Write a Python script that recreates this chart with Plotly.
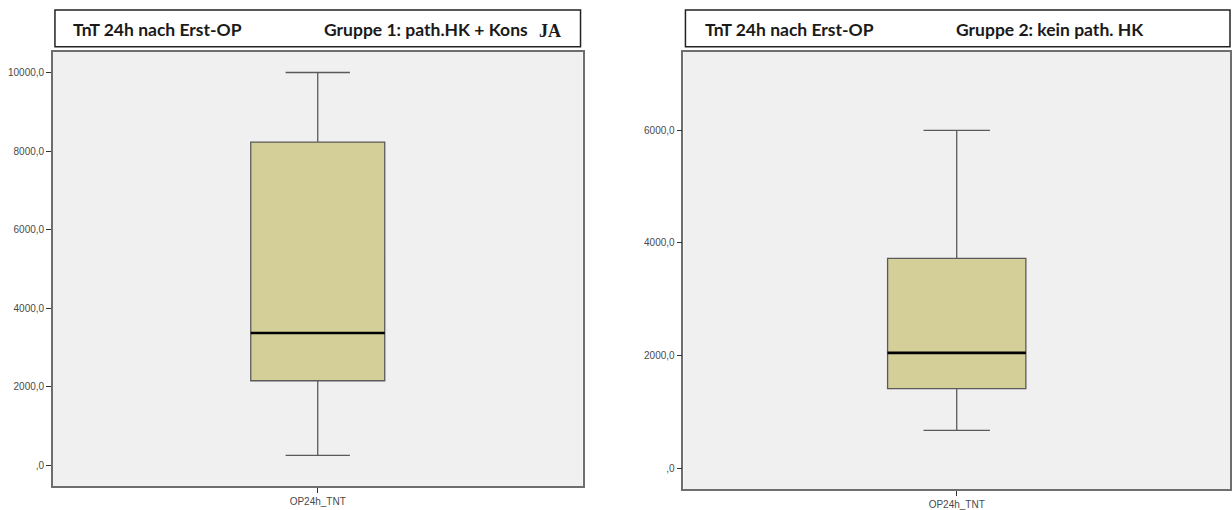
import plotly.graph_objects as go

categories = ["OP24h_TNT"]

# Group 1: path.HK + Kons JA
g1_low = [253]
g1_q1 = [2152]
g1_med = [3367]
g1_q3 = [8228]
g1_high = [10000]
g1_ticks = [0, 2000, 4000, 6000, 8000, 10000]
g1_ticktext = [",0", "2000,0", "4000,0", "6000,0", "8000,0", "10000,0"]

# Group 2: kein path. HK
g2_low = [671]
g2_q1 = [1412]
g2_med = [2048]
g2_q3 = [3725]
g2_high = [6000]
g2_ticks = [0, 2000, 4000, 6000]
g2_ticktext = [",0", "2000,0", "4000,0", "6000,0"]

titles_left = ["TnT 24h nach Erst-OP", "TnT 24h nach Erst-OP"]
titles_right = ["Gruppe 1: path.HK + Kons", "Gruppe 2: kein path. HK"]
title_suffix = ["JA", ""]

W, H = 1232, 510
BOXW = 0.253
FILL = "#d4cf98"
LINE = "#5a5a5a"

fig = go.Figure()

def add_box(xa, ya, low, q1, med, q3, high):
    fig.add_trace(go.Box(
        x=categories, lowerfence=low, q1=q1, median=med, q3=q3, upperfence=high,
        xaxis=xa, yaxis=ya, fillcolor=FILL, line=dict(color=LINE, width=1.3),
        width=BOXW, whiskerwidth=0.48, boxpoints=False, showlegend=False,
        hoverinfo="skip",
    ))
    fig.add_shape(type="line", xref=xa, yref=ya, x0=-BOXW / 2, x1=BOXW / 2,
                  y0=med[0], y1=med[0], line=dict(color="#000000", width=2.6))

add_box("x", "y", g1_low, g1_q1, g1_med, g1_q3, g1_high)
add_box("x2", "y2", g2_low, g2_q1, g2_med, g2_q3, g2_high)

def px(x):
    return x / W

def py(y):
    return 1 - y / H

tickfont = dict(family="Liberation Sans Narrow, Arial Narrow, sans-serif", size=10, color="#4a4a4a")
axis_common = dict(showline=True, mirror=True, linecolor="#6e6e6e", linewidth=1.6,
                   ticks="outside", ticklen=5, tickcolor="#333333", tickwidth=1,
                   showgrid=False, zeroline=False, tickfont=tickfont, fixedrange=True)

fig.update_layout(
    width=W, height=H, margin=dict(l=0, r=0, t=0, b=0),
    paper_bgcolor="white", plot_bgcolor="#f0f0f0",
    xaxis=dict(domain=[px(53), px(583)], range=[-0.5, 0.5], type="category",
               anchor="y", **axis_common),
    yaxis=dict(domain=[py(489), py(52)], range=[-530, 10530], tickvals=g1_ticks,
               ticktext=g1_ticktext, anchor="x", **axis_common),
    xaxis2=dict(domain=[px(684), px(1231)], range=[-0.5, 0.5], type="category",
                anchor="y2", **axis_common),
    yaxis2=dict(domain=[py(492), py(52)], range=[-371, 7396], tickvals=g2_ticks,
                ticktext=g2_ticktext, anchor="x2", **axis_common),
)

# Title boxes
boxes = [(55, 581), (686, 1231)]
title_x = [(71, 322), (704, 955)]
titlefont = dict(family="Lato, Open Sans, sans-serif", size=17.5, color="#1a1a1a")
for i, (x0, x1) in enumerate(boxes):
    fig.add_shape(type="rect", xref="paper", yref="paper",
                  x0=px(x0), x1=px(x1), y0=py(47), y1=py(10),
                  line=dict(color="#222222", width=1.5), fillcolor="white")
    fig.add_annotation(xref="paper", yref="paper", x=px(title_x[i][0]), y=py(30),
                       text="<b>" + titles_left[i] + "</b>", showarrow=False,
                       xanchor="left", yanchor="middle", font=titlefont)
    fig.add_annotation(xref="paper", yref="paper", x=px(title_x[i][1]), y=py(30),
                       text="<b>" + titles_right[i] + "</b>", showarrow=False,
                       xanchor="left", yanchor="middle", font=titlefont)
    if title_suffix[i]:
        fig.add_annotation(xref="paper", yref="paper", x=px(537), y=py(31),
                           text="<b>" + title_suffix[i] + "</b>", showarrow=False,
                           xanchor="left", yanchor="middle",
                           font=dict(family="Liberation Serif, serif", size=18, color="#1a1a1a"))

fig.write_html("out.html")
